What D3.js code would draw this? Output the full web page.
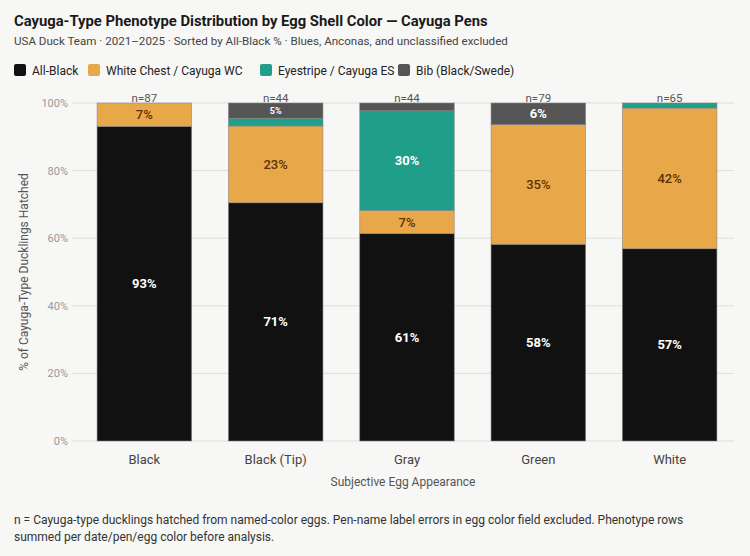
<!DOCTYPE html>
<html>
<head>
<meta charset="utf-8">
<script src="https://cdn.jsdelivr.net/npm/d3@7"></script>
<style>
  body { margin: 0; background: #f7f7f5; }
  svg { display: block; font-family: Roboto, "Noto Sans", sans-serif; }
</style>
</head>
<body>
<div id="chart"></div>
<script>
// categories (egg color) and phenotype series, in percent
var eggColors = ["Black", "Black (Tip)", "Gray", "Green", "White"];
var counts = [87, 44, 44, 79, 65];
var phenotypes = ["All-Black", "White Chest / Cayuga WC", "Eyestripe / Cayuga ES", "Bib (Black/Swede)"];
var allBlack   = [93.1, 70.5, 61.4, 58.2, 56.9];
var whiteChest = [6.9, 22.7, 6.8, 35.4, 41.6];
var eyestripe  = [0, 2.3, 29.5, 0, 1.5];
var bib        = [0, 4.5, 2.3, 6.4, 0];
var yTicks = [0, 20, 40, 60, 80, 100];

var colors = ["#111111", "#e8a84a", "#1f9e89", "#555555"];
var labelColors = ["#ffffff", "#5a3300", "#ffffff", "#ffffff"];

var width = 750, height = 556;
var svg = d3.select("#chart").append("svg")
    .attr("width", width)
    .attr("height", height);

svg.append("rect").attr("width", width).attr("height", height).attr("fill", "#f7f7f5");

// title + subtitle
svg.append("text").attr("x", 14).attr("y", 26)
    .attr("font-size", 14.8).attr("font-weight", 700).attr("fill", "#1a1a1a")
    .text("Cayuga-Type Phenotype Distribution by Egg Shell Color \u2014 Cayuga Pens");
svg.append("text").attr("x", 14).attr("y", 45)
    .attr("font-size", 11.6).attr("fill", "#444")
    .text("USA Duck Team \u00b7 2021\u20132025 \u00b7 Sorted by All-Black % \u00b7 Blues, Anconas, and unclassified excluded");

// legend
var legendX = [14, 88, 260, 398];
var legend = svg.selectAll("g.legend")
    .data(phenotypes)
    .enter().append("g")
    .attr("class", "legend")
    .attr("transform", function(d, i) { return "translate(" + legendX[i] + ",64)"; });
legend.append("rect")
    .attr("width", 12).attr("height", 12).attr("rx", 2)
    .attr("fill", function(d, i) { return colors[i]; });
legend.append("text")
    .attr("x", 18).attr("y", 10.5)
    .attr("font-size", 12).attr("fill", "#222")
    .text(function(d) { return d; });

// scales
var x = d3.scaleBand()
    .domain(eggColors)
    .range([80, 734])
    .paddingInner(0.28)
    .paddingOuter(0.13);

var y = d3.scaleLinear()
    .domain([0, 100])
    .range([441, 103]);

// gridlines + y tick labels
svg.selectAll("line.grid")
    .data(yTicks)
    .enter().append("line")
    .attr("class", "grid")
    .attr("x1", 72).attr("x2", 734)
    .attr("y1", function(d) { return y(d); })
    .attr("y2", function(d) { return y(d); })
    .attr("stroke", "#dddddd").attr("stroke-width", 1);

svg.selectAll("text.ytick")
    .data(yTicks)
    .enter().append("text")
    .attr("class", "ytick")
    .attr("x", 68)
    .attr("y", function(d) { return y(d) + 4; })
    .attr("text-anchor", "end")
    .attr("font-size", 11).attr("fill", "#999")
    .text(function(d) { return d + "%"; });

svg.append("text")
    .attr("transform", "translate(28," + y(50) + ") rotate(-90)")
    .attr("text-anchor", "middle")
    .attr("font-size", 12).attr("fill", "#555")
    .text("% of Cayuga-Type Ducklings Hatched");

// n labels (drawn before bars so the bar top trims them a little)
svg.selectAll("text.nlabel")
    .data(eggColors)
    .enter().append("text")
    .attr("class", "nlabel")
    .attr("x", function(d) { return x(d) + x.bandwidth() / 2; })
    .attr("y", y(100) - 1)
    .attr("text-anchor", "middle")
    .attr("font-size", 11.5).attr("fill", "#555")
    .text(function(d, i) { return "n=" + counts[i]; });

// stack the series
var rows = eggColors.map(function(c, i) {
    return { cat: c, s0: allBlack[i], s1: whiteChest[i], s2: eyestripe[i], s3: bib[i] };
});
var stack = d3.stack().keys(["s0", "s1", "s2", "s3"]);
var series = stack(rows);

var layer = svg.selectAll("g.layer")
    .data(series)
    .enter().append("g")
    .attr("class", "layer");

layer.selectAll("rect")
    .data(function(d) { return d.map(function(p) { return { k: d.index, p: p }; }); })
    .enter().append("rect")
    .filter(function(d) { return d.p[1] - d.p[0] > 0; })
    .attr("x", function(d) { return x(d.p.data.cat); })
    .attr("y", function(d) { return y(d.p[1]); })
    .attr("width", x.bandwidth())
    .attr("height", function(d) { return y(d.p[0]) - y(d.p[1]); })
    .attr("fill", function(d) { return colors[d.k]; })
    .attr("stroke", "#888").attr("stroke-opacity", 0.7).attr("stroke-width", 0.8);

// segment labels
var labels = [];
series.forEach(function(s) {
    s.forEach(function(p) {
        var v = p[1] - p[0];
        if (v >= 4) labels.push({ k: s.index, p: p, v: v });
    });
});

svg.selectAll("text.seg")
    .data(labels)
    .enter().append("text")
    .attr("class", "seg")
    .attr("x", function(d) { return x(d.p.data.cat) + x.bandwidth() / 2; })
    .attr("y", function(d) { return (y(d.p[0]) + y(d.p[1])) / 2; })
    .attr("dy", "0.35em")
    .attr("text-anchor", "middle")
    .attr("font-weight", function(d) { return d.k === 1 ? 500 : 700; })
    .attr("font-size", function(d) { return (y(d.p[0]) - y(d.p[1])) < 20 ? 9 : 13; })
    .attr("fill", function(d) { return labelColors[d.k]; })
    .text(function(d) { return Math.round(d.v) + "%"; });

// x axis labels
svg.selectAll("text.xtick")
    .data(eggColors)
    .enter().append("text")
    .attr("class", "xtick")
    .attr("x", function(d) { return x(d) + x.bandwidth() / 2; })
    .attr("y", 464)
    .attr("text-anchor", "middle")
    .attr("font-size", 13).attr("fill", "#444")
    .text(function(d) { return d; });

svg.append("text")
    .attr("x", 403).attr("y", 486)
    .attr("text-anchor", "middle")
    .attr("font-size", 12).attr("fill", "#555")
    .text("Subjective Egg Appearance");

// footnote
var notes = [
    "n = Cayuga-type ducklings hatched from named-color eggs. Pen-name label errors in egg color field excluded. Phenotype rows",
    "summed per date/pen/egg color before analysis."
];
svg.selectAll("text.note")
    .data(notes)
    .enter().append("text")
    .attr("class", "note")
    .attr("x", 14)
    .attr("y", function(d, i) { return 524 + i * 17; })
    .attr("font-size", 12).attr("fill", "#333")
    .text(function(d) { return d; });
</script>
</body>
</html>
